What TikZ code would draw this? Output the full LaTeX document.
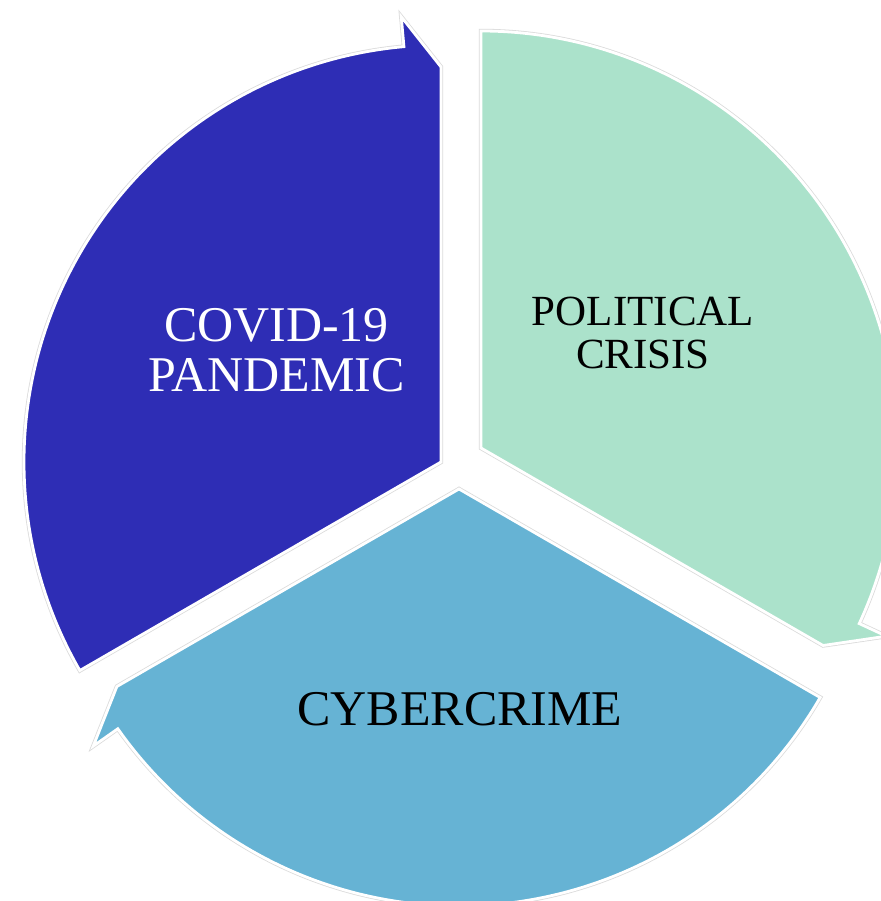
\documentclass[tikz,border=0pt]{standalone}
\usepackage{fontspec}
\setmainfont{Liberation Serif}
\definecolor{covidblue}{RGB}{46,45,181}
\definecolor{crisisgreen}{RGB}{171,226,203}
\definecolor{cybercyan}{RGB}{102,179,212}

\begin{document}
\begin{tikzpicture}[x=0.5pt,y=0.5pt,
    segment/.style={fill=#1,draw=white,line width=1.4pt,
        preaction={draw=black!14,line width=2.2pt}},
    label/.style={align=center,inner sep=0pt}]
    \useasboundingbox (0,0) rectangle (880,901);

    % three arrow segments of the cycle
    \foreach \ox/\oy/\a/\col in {441/439/210/covidblue,481/453/90/crisisgreen,459/412/-30/cybercyan}{
        \pgfmathsetmacro\b{\a-120}
        \pgfmathsetmacro\n{\a-120+5.1}
        \begin{scope}[shift={(\ox,\oy)}]
            \path[segment=\col] (0,0) -- (\a:417) arc[start angle=\a,end angle=\n,radius=417]
                -- (\n:447) -- (\b:395) -- cycle;
        \end{scope}
    }

    \node[label,text=white,font=\fontsize{25}{25}\selectfont] (covid) at (276.5,551) {COVID-19\\PANDEMIC};
    \node[label,font=\fontsize{21.5}{21.5}\selectfont] (political) at (643,568) {POLITICAL\\CRISIS};
    \node[label,font=\fontsize{25}{30}\selectfont] (cyber) at (460,192) {CYBERCRIME};
\end{tikzpicture}
\end{document}
